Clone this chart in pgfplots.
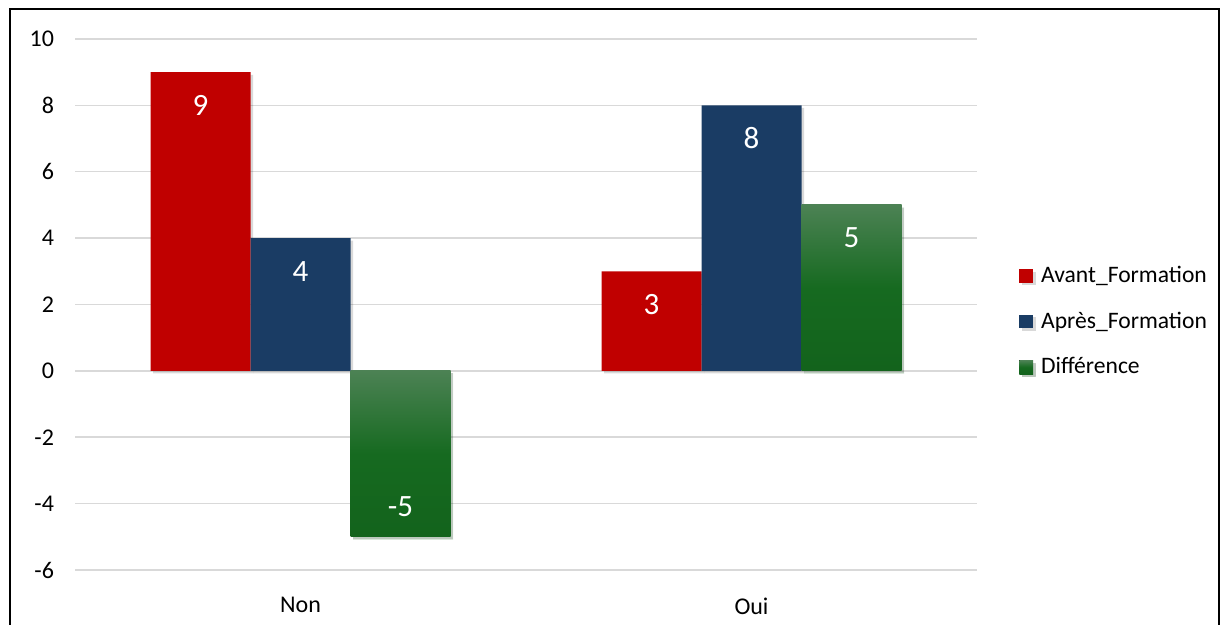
\documentclass[border=0pt]{standalone}
\usepackage{pgfplots}
\pgfplotsset{compat=1.18}
\usepackage{fontspec}
\setmainfont{Carlito}
\usetikzlibrary{shadows}
\definecolor{cred}{RGB}{192,0,0}
\definecolor{cblue}{RGB}{26,60,100}
\definecolor{gtop}{RGB}{76,130,84}
\definecolor{gmid}{RGB}{22,106,32}
\definecolor{gbot}{RGB}{19,99,28}
\definecolor{cgrid}{RGB}{217,217,217}
\pgfdeclareverticalshading{gshade}{100bp}{color(0bp)=(gbot); color(25bp)=(gbot); color(50bp)=(gmid); color(75bp)=(gtop); color(100bp)=(gtop)}
\begin{document}
\begin{tikzpicture}
\useasboundingbox (-37.5pt,-27.5pt) rectangle (574.5pt,285pt);
\tikzset{bshadow/.style={drop shadow={opacity=0.15, shadow xshift=1.3pt, shadow yshift=-1.3pt, fill=black}}}
\begin{axis}[
  scale only axis, width=451pt, height=265.5pt,
  xmin=-0.5, xmax=1.5, ymin=-6, ymax=10,
  ytick={-6,-4,...,10},
  xtick={0,1}, xticklabels={Non,Oui},
  axis line style={draw=none},
  major tick style={draw=none},
  ymajorgrids, grid style={cgrid, line width=0.75pt},
  /pgf/number format/assume math mode=true,
  tick label style={font=\fontsize{12pt}{14pt}\selectfont, text=black},
  yticklabel style={xshift=-7pt},
  xticklabel style={yshift=-6pt},
  clip=false,
  ybar, bar width=50pt,
  nodes near coords,
  every node near coord/.append style={font=\fontsize{15.5pt}{18pt}\selectfont, text=white, anchor=center},
  legend style={draw=none, at={(1.04,0.468)}, anchor=west,
    font=\fontsize{11.8pt}{14pt}\selectfont, row sep=9.2pt,
    /tikz/every even column/.append style={column sep=2pt}},
  legend cell align=left,
  legend image code/.code={\fill[bshadow/.style={}, #1] (0pt,-3.4pt) rectangle (6.8pt,3.4pt);},
  /tikz/every odd column/.append style={column sep=2pt},
]
\addplot[bar shift=-50pt, fill=cred, draw=none, bshadow,
  every node near coord/.append style={yshift=-16.5pt}] coordinates {(0,9) (1,3)};
\addlegendentry{Avant\_Formation}
\addplot[bar shift=0pt, fill=cblue, draw=none, bshadow,
  every node near coord/.append style={yshift=-16.5pt}] coordinates {(0,4) (1,8)};
\addlegendentry{Après\_Formation}
\addplot[bar shift=50pt, draw=none, shading=gshade, shade, bshadow,
  every node near coord/.append style={yshift=-16.5pt}] coordinates {(1,5)};
\addlegendentry{Différence}
\addplot[bar shift=50pt, draw=none, shading=gshade, shade, bshadow, forget plot,
  every node near coord/.append style={yshift=15pt}] coordinates {(0,-5)};
\end{axis}
\draw[black, line width=1pt] (-32.5pt,-28pt) -- (-32.5pt,280.5pt) -- (572pt,280.5pt) -- (572pt,-28pt);
\end{tikzpicture}
\end{document}
